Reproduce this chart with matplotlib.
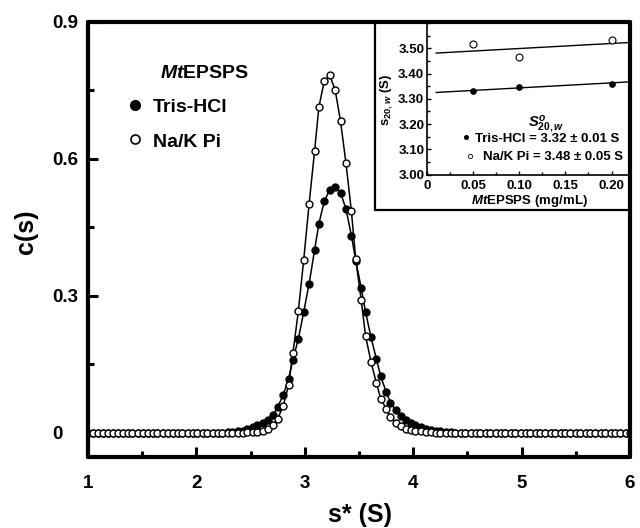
import matplotlib
matplotlib.use('Agg')
import matplotlib.pyplot as plt
from matplotlib.patches import Rectangle
from matplotlib.ticker import MultipleLocator, FixedLocator

plt.rcParams['font.family'] = ['Liberation Sans', 'DejaVu Sans']
plt.rcParams['font.weight'] = 'bold'
plt.rcParams['mathtext.fontset'] = 'custom'
plt.rcParams['mathtext.rm'] = 'Liberation Sans:bold'
plt.rcParams['mathtext.it'] = 'Liberation Sans:italic:bold'
plt.rcParams['mathtext.bf'] = 'Liberation Sans:bold'

# ---------------- main c(s) data ----------------
s_left = [1.00, 1.05, 1.09, 1.14, 1.18, 1.23, 1.28, 1.32, 1.37, 1.41, 1.46, 1.51,
          1.55, 1.60, 1.64, 1.69, 1.74, 1.78, 1.83, 1.87, 1.92, 1.97, 2.01, 2.06,
          2.10, 2.15, 2.20, 2.24, 2.29, 2.33, 2.38, 2.43, 2.47, 2.52, 2.56, 2.61, 2.66]
s_peak = [2.71, 2.75, 2.80, 2.85, 2.89, 2.94, 2.99, 3.04, 3.09, 3.13, 3.18, 3.23,
          3.28, 3.33, 3.38, 3.43, 3.47, 3.52, 3.56, 3.61, 3.66, 3.70, 3.75, 3.79,
          3.84, 3.89, 3.93, 3.98, 4.02]
s_right = [4.07, 4.12, 4.16, 4.21, 4.25, 4.30, 4.35, 4.39, 4.44, 4.48, 4.53, 4.58,
           4.62, 4.67, 4.71, 4.76, 4.81, 4.85, 4.90, 4.94, 4.99, 5.04, 5.08, 5.13,
           5.17, 5.22, 5.27, 5.31, 5.36, 5.40, 5.45, 5.50, 5.54, 5.59, 5.63, 5.68,
           5.73, 5.77, 5.82, 5.86, 5.91, 5.96, 6.00]
s_values = s_left + s_peak + s_right

tris_left = [0.0, 0.0, 0.0, 0.0, 0.0, 0.0, 0.0, 0.0, 0.0, 0.0, 0.0, 0.0,
             0.0, 0.0, 0.0, 0.0, 0.0, 0.0, 0.0, 0.0, 0.0, 0.0, 0.0, 0.0,
             0.0, 0.0, 0.0, 0.0, 0.001, 0.002, 0.003, 0.005, 0.008, 0.012, 0.016, 0.021, 0.028]
tris_peak = [0.039, 0.057, 0.082, 0.118, 0.160, 0.205, 0.265, 0.327, 0.400, 0.458, 0.508, 0.532,
             0.539, 0.526, 0.490, 0.432, 0.377, 0.318, 0.265, 0.210, 0.162, 0.124, 0.090, 0.066,
             0.049, 0.036, 0.027, 0.021, 0.016]
tris_right = [0.012, 0.009, 0.006, 0.004, 0.003, 0.002, 0.001, 0.0, 0.0, 0.0, 0.0, 0.0,
              0.0, 0.0, 0.0, 0.0, 0.0, 0.0, 0.0, 0.0, 0.0, 0.0, 0.0, 0.0,
              0.0, 0.0, 0.0, 0.0, 0.0, 0.0, 0.0, 0.0, 0.0, 0.0, 0.0, 0.0,
              0.0, 0.0, 0.0, 0.0, 0.0, 0.0, 0.0]
tris_c = tris_left + tris_peak + tris_right

nak_left = [0.0, 0.0, 0.0, 0.0, 0.0, 0.0, 0.0, 0.0, 0.0, 0.0, 0.0, 0.0,
            0.0, 0.0, 0.0, 0.0, 0.0, 0.0, 0.0, 0.0, 0.0, 0.0, 0.0, 0.0,
            0.0, 0.0, 0.0, 0.0, 0.0, 0.0, 0.0, 0.0, 0.001, 0.001, 0.002, 0.005, 0.009]
nak_peak = [0.016, 0.031, 0.058, 0.104, 0.174, 0.266, 0.379, 0.502, 0.617, 0.714, 0.771, 0.783,
            0.751, 0.682, 0.590, 0.485, 0.380, 0.291, 0.213, 0.156, 0.109, 0.075, 0.053, 0.035,
            0.022, 0.014, 0.009, 0.006, 0.004]
nak_right = [0.003, 0.002, 0.001, 0.0, 0.0, 0.0, 0.0, 0.0, 0.0, 0.0, 0.0, 0.0,
             0.0, 0.0, 0.0, 0.0, 0.0, 0.0, 0.0, 0.0, 0.0, 0.0, 0.0, 0.0,
             0.0, 0.0, 0.0, 0.0, 0.0, 0.0, 0.0, 0.0, 0.0, 0.0, 0.0, 0.0,
             0.0, 0.0, 0.0, 0.0, 0.0, 0.0, 0.0]
nak_c = nak_left + nak_peak + nak_right

x_ticks = [1, 2, 3, 4, 5, 6]
x_ticklabels = ['1', '2', '3', '4', '5', '6']
y_ticks = [0, 0.3, 0.6, 0.9]
y_ticklabels = ['0', '0.3', '0.6', '0.9']
y_minor = [0.15, 0.45, 0.75]

# ---------------- inset data ----------------
conc = [0.05, 0.10, 0.20]
tris_s20 = [3.329, 3.348, 3.358]
nak_s20 = [3.517, 3.464, 3.531]
fit_range = [0.01, 0.22]
tris_fit = (3.323, 0.20)   # intercept, slope
nak_fit = (3.479, 0.20)
in_xticks = [0, 0.05, 0.10, 0.15, 0.20]
in_xticklabels = ['0', '0.05', '0.10', '0.15', '0.20']
in_yticks = [3.00, 3.10, 3.20, 3.30, 3.40, 3.50]
in_yticklabels = ['3.00', '3.10', '3.20', '3.30', '3.40', '3.50']

fig = plt.figure(figsize=(6.4, 5.28), dpi=100)
ax = fig.add_axes([0.1375, 0.1345, 0.8469, 0.8239])

ax.plot(s_values, tris_c, '-o', color='black', lw=1.1, ms=5, mfc='black',
        mec='black', mew=1.0, zorder=2)
ax.plot(s_values, nak_c, '-o', color='black', lw=1.1, ms=5, mfc='white',
        mec='black', mew=1.0, zorder=2.1)

ax.set_xlim(1, 6)
ax.set_ylim(-0.053, 0.9)
ax.set_xticks(x_ticks)
ax.set_xticklabels(x_ticklabels)
ax.set_yticks(y_ticks)
ax.set_yticklabels(y_ticklabels)
ax.xaxis.set_minor_locator(MultipleLocator(0.5))
ax.yaxis.set_minor_locator(FixedLocator(y_minor))
ax.tick_params(which='both', direction='in', top=False, right=False, width=2.2)
ax.tick_params(which='major', length=7)
ax.tick_params(which='minor', length=4.5)
ax.tick_params(axis='x', pad=13, labelsize=13.5)
ax.tick_params(axis='y', pad=26, labelsize=13.5)
for lbl in ax.get_yticklabels():
    lbl.set_ha('left')
for sp in ax.spines.values():
    sp.set_linewidth(3)
    sp.set_capstyle('round')

ax.text(-0.114, 0.517, 'c(s)', transform=ax.transAxes, rotation=90,
        ha='center', va='center', fontsize=18, fontweight='bold')
ax.text(0.502, -0.133, 's* (S)', transform=ax.transAxes,
        ha='center', va='center', fontsize=18, fontweight='bold')

# main legend
ax.text(0.216, 0.871, r'$\mathit{Mt}$EPSPS', transform=ax.transAxes,
        ha='center', va='baseline', fontsize=14, fontweight='bold')
ax.plot([0.0867], [0.809], 'o', transform=ax.transAxes, ms=7, mfc='black',
        mec='black', mew=1.0, clip_on=False)
ax.plot([0.0867], [0.731], 'o', transform=ax.transAxes, ms=6.5, mfc='white',
        mec='black', mew=1.2, clip_on=False)
ax.text(0.12, 0.794, 'Tris-HCl', transform=ax.transAxes, ha='left',
        va='baseline', fontsize=14, fontweight='bold')
ax.text(0.12, 0.713, 'Na/K Pi', transform=ax.transAxes, ha='left',
        va='baseline', fontsize=14, fontweight='bold')

# inset frame
frame = Rectangle((0.5295, 0.5678), 0.4705, 0.4322, transform=ax.transAxes,
                  facecolor='white', edgecolor='black', lw=1.6, zorder=2.3,
                  clip_on=False)
ax.add_patch(frame)

# inset axes
ax2 = fig.add_axes([0.6672, 0.6695, 0.3172, 0.2869])
ax2.set_facecolor('none')
ax2.plot(fit_range, [tris_fit[0] + tris_fit[1] * x for x in fit_range],
         color='black', lw=1.0)
ax2.plot(fit_range, [nak_fit[0] + nak_fit[1] * x for x in fit_range],
         color='black', lw=1.0)
ax2.plot(conc, tris_s20, 'o', ms=4, mfc='black', mec='black', mew=0.8)
ax2.plot(conc, nak_s20, 'o', ms=5, mfc='white', mec='black', mew=0.8)
ax2.set_xlim(0, 0.22)
ax2.set_ylim(3.0, 3.6)
ax2.set_xticks(in_xticks)
ax2.set_xticklabels(in_xticklabels)
ax2.set_yticks(in_yticks)
ax2.set_yticklabels(in_yticklabels)
ax2.xaxis.set_minor_locator(MultipleLocator(0.025))
ax2.yaxis.set_minor_locator(MultipleLocator(0.05))
ax2.tick_params(which='both', direction='in', top=False, right=False, width=1.0)
ax2.tick_params(which='major', length=3)
ax2.tick_params(which='minor', length=2)
ax2.tick_params(axis='x', pad=4, labelsize=9.5)
ax2.tick_params(axis='y', pad=2, labelsize=9.5)
ax2.spines['top'].set_visible(False)
ax2.spines['right'].set_visible(False)
ax2.spines['left'].set_linewidth(1.2)
ax2.spines['bottom'].set_linewidth(1.2)

ax2.text(-0.199, 0.49, r'$\mathrm{s}_{20,w}$ (S)', transform=ax2.transAxes,
         rotation=90, ha='center', va='center', fontsize=9.5, fontweight='bold')
ax2.text(0.507, -0.197, r'$\mathit{Mt}$EPSPS (mg/mL)', transform=ax2.transAxes,
         ha='center', va='baseline', fontsize=9.5, fontweight='bold')
ax2.text(0.586, 0.32, r'$S^{o}_{20,w}$', transform=ax2.transAxes,
         ha='center', va='baseline', fontsize=10.5)
ax2.plot([0.19], [0.245], 'o', transform=ax2.transAxes, ms=3, mfc='black',
         mec='black', mew=0.6, clip_on=False)
ax2.plot([0.2118], [0.124], 'o', transform=ax2.transAxes, ms=3, mfc='white',
         mec='black', mew=0.6, clip_on=False)
ax2.text(0.236, 0.2165, 'Tris-HCl = 3.32 \u00b1 0.01 S', transform=ax2.transAxes,
         ha='left', va='baseline', fontsize=9.5, fontweight='bold')
ax2.text(0.276, 0.0957, 'Na/K Pi = 3.48 \u00b1 0.05 S', transform=ax2.transAxes,
         ha='left', va='baseline', fontsize=9.5, fontweight='bold')

fig.savefig('out.png', dpi=100)
